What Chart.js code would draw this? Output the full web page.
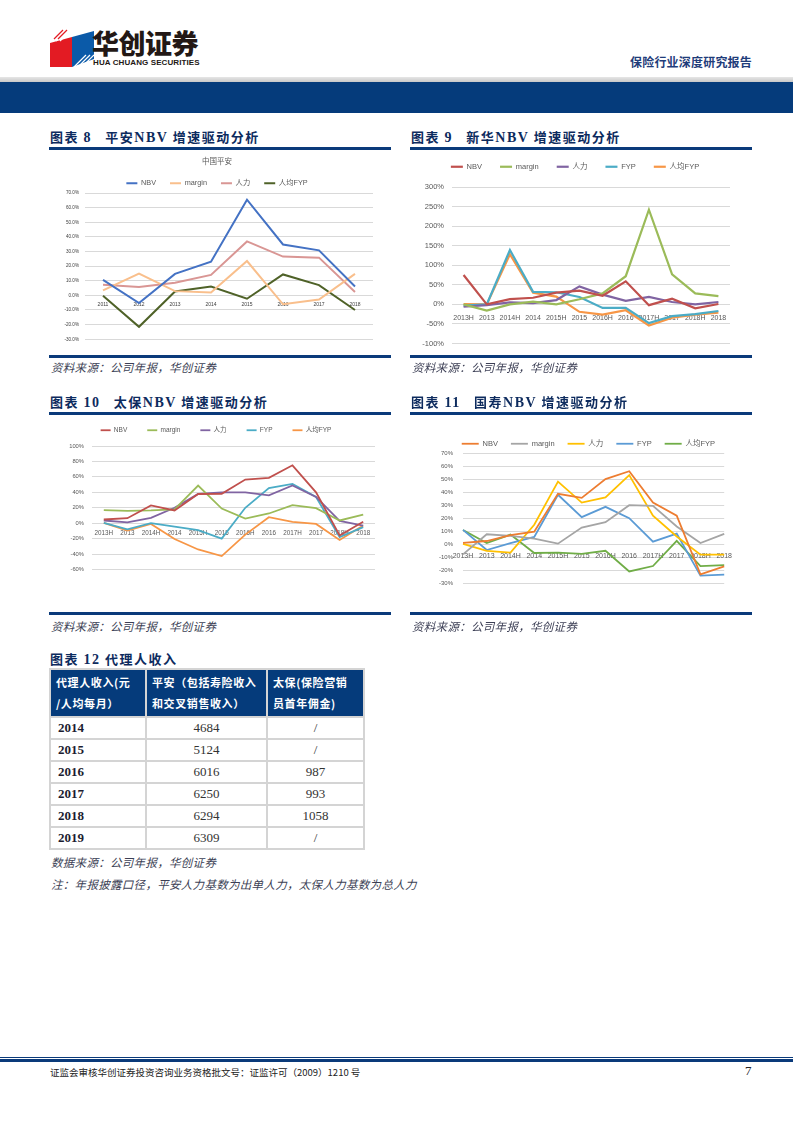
<!DOCTYPE html>
<html lang="zh-CN">
<head>
<meta charset="utf-8">
<title>保险行业深度研究报告</title>
<script src="https://cdn.jsdelivr.net/npm/chart.js@4.4.0/dist/chart.umd.min.js"></script>
<style>
  html, body { margin: 0; padding: 0; background: #fff; }
  body {
    width: 793px; height: 1122px; position: relative; overflow: hidden;
    font-family: "Noto Sans CJK SC", "Liberation Sans", sans-serif;
  }
  .abs { position: absolute; }
  canvas { position: absolute; }
  .brand { left: 92px; top: 26px; font-size: 27px; font-weight: 900; color: #231815; letter-spacing: -0.5px; line-height: 34px; }
  .brand-en { left: 93px; top: 58px; font-family: "Liberation Sans Narrow", "Liberation Sans", sans-serif; font-size: 8px; font-weight: 700; color: #231815; letter-spacing: 0.1px; }
  .report-name { left: 630px; top: 53px; font-size: 12px; font-weight: 700; color: #1f3d7a; letter-spacing: 0.2px; }
  .grey-rule { left: 0; top: 77px; width: 793px; height: 5px; background: linear-gradient(#e6e6e6, #c8c8c8); }
  .blue-band { left: 0; top: 82px; width: 793px; height: 31px; background: #053b7b; }
  .fig-title { font-size: 13px; font-weight: 700; color: #0d2b5e; line-height: 16px; white-space: nowrap; letter-spacing: 1.5px; }
  .fig-title .num { font-family: "Liberation Serif", serif; font-size: 14px; }
  .rule { height: 3px; background: #0a3a7a; }
  .rule-thin { height: 2.5px; background: #0a3a7a; }
  .source { font-size: 11.5px; font-style: italic; color: #3c3f55; line-height: 14px; white-space: nowrap; letter-spacing: 0.3px; }
  table.income { position: absolute; left: 49px; top: 668px; border-collapse: collapse; table-layout: fixed; width: 314px; }
  table.income td { border: 2px solid #d4d4d4; height: 20px; line-height: 20px; padding: 0 7px; font-family: "Liberation Serif", serif; font-size: 13px; color: #333; }
  table.income td.yr { font-weight: 700; color: #1c1c30; }
  table.income td.val { text-align: center; }
  table.income th { background: #053b7b; color: #fff; border: 2px solid #d4d4d4; font-size: 11px; font-weight: 700; text-align: left; padding: 0 5px; height: 46px; line-height: 21px; letter-spacing: 0.6px; white-space: nowrap; overflow: hidden; vertical-align: middle; }
  .footer-rule1 { left: 0; top: 1057px; width: 793px; height: 1px; background: #0a3a7a; }
  .footer-rule2 { left: 0; top: 1059px; width: 793px; height: 3px; background: #0a3a7a; }
  .footer { left: 50px; top: 1065px; font-size: 9.5px; color: #222; white-space: nowrap; }
  .page-no { left: 745px; top: 1063px; font-family: "Liberation Serif", serif; font-size: 13px; color: #222; }
</style>
</head>
<body>

<!-- header -->
<svg class="abs" style="left:50px;top:29px" width="44" height="38" viewBox="0 0 44 38">
  <polygon points="0,14 22,8 22,38 0,38" fill="#e31b23"/>
  <polygon points="22,8 44,2 44,30 22,38" fill="#0b5aa8"/>
  <g stroke="#ffffff" stroke-width="1.2">
    <line x1="2" y1="12" x2="14" y2="0"/>
    <line x1="6" y1="12" x2="18" y2="0"/>
    <line x1="10" y1="12" x2="22" y2="0"/>
    <line x1="24" y1="38" x2="36" y2="26"/>
    <line x1="28" y1="38" x2="40" y2="26"/>
    <line x1="32" y1="38" x2="44" y2="26"/>
  </g>
  <g stroke="#e31b23" stroke-width="1.2">
    <line x1="4" y1="10" x2="13" y2="1"/>
    <line x1="8" y1="10" x2="17" y2="1"/>
  </g>
</svg>
<div class="abs brand">华创证券</div>
<div class="abs brand-en">HUA CHUANG SECURITIES</div>
<div class="abs report-name">保险行业深度研究报告</div>
<div class="abs grey-rule"></div>
<div class="abs blue-band"></div>

<!-- figure 8 -->
<div class="abs fig-title" style="left:50px;top:129px">图表 <span class="num">8</span>&nbsp;&nbsp; 平安<span class="num">NBV</span> 增速驱动分析</div>
<div class="abs rule" style="left:49px;top:147px;width:342px"></div>
<canvas id="chartPingan" width="341" height="198" style="left:49px;top:150px"></canvas>
<div class="abs rule-thin" style="left:49px;top:355px;width:342px"></div>
<div class="abs source" style="left:51px;top:360px">资料来源：公司年报，华创证券</div>

<!-- figure 9 -->
<div class="abs fig-title" style="left:411px;top:129px">图表 <span class="num">9</span>&nbsp;&nbsp; 新华<span class="num">NBV</span> 增速驱动分析</div>
<div class="abs rule" style="left:410px;top:147px;width:342px"></div>
<canvas id="chartXinhua" width="330" height="211" style="left:410px;top:145px"></canvas>
<div class="abs rule-thin" style="left:410px;top:355px;width:342px"></div>
<div class="abs source" style="left:412px;top:360px">资料来源：公司年报，华创证券</div>

<!-- figure 10 -->
<div class="abs fig-title" style="left:50px;top:394px">图表 <span class="num">10</span>&nbsp;&nbsp; 太保<span class="num">NBV</span> 增速驱动分析</div>
<div class="abs rule" style="left:49px;top:412px;width:342px"></div>
<canvas id="chartTaibao" width="334" height="174" style="left:49px;top:407px"></canvas>
<div class="abs rule-thin" style="left:49px;top:612px;width:342px"></div>
<div class="abs source" style="left:51px;top:619px">资料来源：公司年报，华创证券</div>

<!-- figure 11 -->
<div class="abs fig-title" style="left:411px;top:394px">图表 <span class="num">11</span>&nbsp;&nbsp; 国寿<span class="num">NBV</span> 增速驱动分析</div>
<div class="abs rule" style="left:410px;top:412px;width:342px"></div>
<canvas id="chartGuoshou" width="330" height="170" style="left:410px;top:427px"></canvas>
<div class="abs rule-thin" style="left:410px;top:612px;width:342px"></div>
<div class="abs source" style="left:412px;top:619px">资料来源：公司年报，华创证券</div>

<!-- figure 12 -->
<div class="abs fig-title" style="left:50px;top:651px">图表 <span class="num">12</span>&nbsp;代理人收入</div>
<table class="income" id="incomeTable">
  <colgroup><col style="width:96px"><col style="width:121px"><col style="width:97px"></colgroup>
  <tr>
    <th>代理人收入(元<br>/人均每月）</th>
    <th>平安（包括寿险收入<br>和交叉销售收入）</th>
    <th>太保(保险营销<br>员首年佣金)</th>
  </tr>
</table>
<div class="abs source" style="left:51px;top:855px">数据来源：公司年报，华创证券</div>
<div class="abs source" style="left:51px;top:877px">注：年报披露口径，平安人力基数为出单人力，太保人力基数为总人力</div>

<!-- footer -->
<div class="abs footer-rule1"></div>
<div class="abs footer-rule2"></div>
<div class="abs footer">证监会审核华创证券投资咨询业务资格批文号：证监许可（2009）1210 号</div>
<div class="abs page-no">7</div>

<script>
// ---- 图表8 中国平安 (annual growth, %) ----
const pinganYears = ['2011', '2012', '2013', '2014', '2015', '2016', '2017', '2018'];
const pinganNBV = [10.6, -5.2, 14.7, 23.0, 65.4, 34.8, 30.8, 6.1];
const pinganMargin = [3.4, 14.9, 2.9, 2.0, 23.5, -6.1, -2.9, 14.7];
const pinganAgents = [7.2, 5.7, 8.6, 14.0, 36.9, 26.5, 25.8, 2.3];
const pinganFypPerAgent = [-0.3, -21.5, 2.7, 6.1, -2.3, 14.3, 7.0, -10.0];

// ---- half-year periods shared by 新华 / 太保 / 国寿 ----
const halfYears = ['2013H', '2013', '2014H', '2014', '2015H', '2015', '2016H', '2016', '2017H', '2017', '2018H', '2018'];

// 图表9 新华
const xinhuaNBV = [75, 0, 13.6, 17, 30, 35, 22, 59, -2, 14.5, -10, 1];
const xinhuaMargin = [0, -16, 0, 7, 0, 13, 28, 72, 242, 77, 28, 21];
const xinhuaAgents = [-6, -2, 5, 3, 11, 46, 25, 9, 19, 6, 0, 6];
const xinhuaFYP = [-3, 0, 139, 32, 31, 19, -9, -9, -48, -30, -25, -17];
const xinhuaFypPerAgent = [1, 0, 128, 30, 20, -19, -26, -15, -54, -34, -26, -21];

// 图表10 太保
const taibaoNBV = [4.8, 6.5, 23, 16.5, 37.8, 38, 56.5, 58.7, 75, 40, -16, 2];
const taibaoMargin = [17, 16, 16.5, 18, 48.7, 19, 6, 12.6, 23.5, 19.5, 3.5, 11];
const taibaoAgents = [3.5, 1, 7, 20, 38, 40, 40, 36, 49, 34, 3, -3];
const taibaoFYP = [0.5, -8, 0, -4.5, -9, -20, 20, 45.6, 51, 34, -18, -5];
const taibaoFypPerAgent = [0.5, -9.5, -1, -20.4, -34, -42.6, -14.8, 7.8, 1.7, -1, -21.7, -3];

// 图表11 国寿
const guoshouNBV = [1, 2.5, 7, 9.7, 38.7, 35.6, 50, 56, 32, 22, -23, -17];
const guoshouMargin = [-7.7, 7.7, 6.4, 4.4, 0.5, 12.8, 17, 30, 29.5, 13.6, 1, 8];
const guoshouAgents = [0.3, -5, -6.4, 15, 48, 32, 36, 53, 22, 6, -8, -8];
const guoshouFYP = [11, -4.4, 0.8, 5.6, 38, 20.8, 28.7, 20, 2, 8.2, -24, -23.3];
const guoshouFypPerAgent = [11, 1, 7.4, -6.7, -6.4, -7.4, -5, -20.8, -16.7, 2.6, -16.7, -16];

// ---- 图表12 代理人收入 ----
const incomeYears = ['2014', '2015', '2016', '2017', '2018', '2019'];
const pinganIncome = ['4684', '5124', '6016', '6250', '6294', '6309'];
const taibaoIncome = ['/', '/', '987', '993', '1058', '/'];

const FONT = '"Liberation Sans", "Noto Sans CJK SC", sans-serif';

/**
 * Pins the legend block to a fixed height so the plot top lines up
 */
function fixedLegendHeight(px) {
  return {
    id: 'fixedLegendHeight',
    beforeInit(chart) {
      const fit = chart.legend.fit;
      chart.legend.fit = function () {
        fit.call(this);
        this.height = px;
      };
    }
  };
}

/**
 * Build one Excel-style growth line chart
 */
function buildLineChart(canvasId, setup) {
  const canvas = document.getElementById(canvasId);
  const datasets = setup.series.map(s => ({
    label: s.name,
    data: s.values,
    borderColor: s.color,
    backgroundColor: s.color,
    borderWidth: setup.lineWidth,
    pointRadius: 0,
    tension: 0,
    fill: false
  }));

  return new Chart(canvas.getContext('2d'), {
    type: 'line',
    data: { labels: setup.labels, datasets: datasets },
    options: {
      responsive: false,
      animation: false,
      layout: { padding: { left: setup.padLeft, right: setup.padRight, top: 0, bottom: 0 } },
      plugins: {
        title: setup.title ? {
          display: true,
          text: setup.title,
          color: '#595959',
          font: { family: FONT, size: 7.5, weight: 'normal', lineHeight: 1 },
          padding: { top: 8, bottom: 0 }
        } : { display: false },
        legend: {
          align: setup.legendAlign || 'center',
          labels: {
            usePointStyle: true,
            pointStyle: 'line',
            pointStyleWidth: setup.boxWidth,
            padding: setup.legendPad,
            color: '#595959',
            font: { family: FONT, size: setup.legendFont }
          }
        },
        tooltip: { enabled: false }
      },
      scales: {
        x: {
          position: { y: 0 },
          offset: setup.offset,
          grid: { display: false, drawTicks: false },
          border: { display: false },
          ticks: {
            color: setup.tickColor || '#595959',
            font: { family: FONT, size: setup.xFont },
            padding: setup.xPad,
            autoSkip: false,
            maxRotation: 0
          }
        },
        y: {
          min: setup.min,
          max: setup.max,
          grid: { color: '#d9d9d9', lineWidth: 1, drawTicks: false },
          border: { display: false },
          ticks: {
            stepSize: setup.step,
            color: setup.tickColor || '#595959',
            font: { family: FONT, size: setup.yFont },
            padding: setup.yPad,
            callback: v => v.toFixed(setup.decimals) + '%'
          },
          afterFit: s => { s.width = setup.axisWidth; }
        }
      }
    },
    plugins: [fixedLegendHeight(setup.legendHeight)]
  });
}

// 图表8
buildLineChart('chartPingan', {
  labels: pinganYears,
  title: '中国平安',
  series: [
    { name: 'NBV', values: pinganNBV, color: '#4472c4' },
    { name: 'margin', values: pinganMargin, color: '#f9bf8c' },
    { name: '人力', values: pinganAgents, color: '#d99694' },
    { name: '人均FYP', values: pinganFypPerAgent, color: '#4f6228' }
  ],
  min: -30, max: 70, step: 10, decimals: 1,
  lineWidth: 2, boxWidth: 11, legendPad: 14, legendFont: 7.3, legendHeight: 27.5,
  xFont: 5, yFont: 4.6, xPad: 6, yPad: 6, tickColor: '#404040',
  axisWidth: 24, padLeft: 12, padRight: 17, offset: true
});

// 图表9
buildLineChart('chartXinhua', {
  labels: halfYears,
  series: [
    { name: 'NBV', values: xinhuaNBV, color: '#c0504d' },
    { name: 'margin', values: xinhuaMargin, color: '#9bbb59' },
    { name: '人力', values: xinhuaAgents, color: '#8064a2' },
    { name: 'FYP', values: xinhuaFYP, color: '#4bacc6' },
    { name: '人均FYP', values: xinhuaFypPerAgent, color: '#f79646' }
  ],
  min: -100, max: 300, step: 50, decimals: 0,
  lineWidth: 2.2, boxWidth: 12, legendPad: 18, legendFont: 7.5, legendHeight: 42,
  xFont: 7, yFont: 7.5, xPad: 9, yPad: 8,
  axisWidth: 32, padLeft: 10, padRight: 10, offset: true
});

// 图表10
buildLineChart('chartTaibao', {
  labels: halfYears,
  series: [
    { name: 'NBV', values: taibaoNBV, color: '#c0504d' },
    { name: 'margin', values: taibaoMargin, color: '#9bbb59' },
    { name: '人力', values: taibaoAgents, color: '#8064a2' },
    { name: 'FYP', values: taibaoFYP, color: '#4bacc6' },
    { name: '人均FYP', values: taibaoFypPerAgent, color: '#f79646' }
  ],
  min: -60, max: 100, step: 20, decimals: 0,
  lineWidth: 1.8, boxWidth: 10, legendPad: 20, legendFont: 6.5, legendHeight: 39,
  xFont: 6.3, yFont: 5.8, xPad: 6, yPad: 8,
  axisWidth: 35, padLeft: 8, padRight: 8, offset: true
});

// 图表11
buildLineChart('chartGuoshou', {
  labels: halfYears,
  series: [
    { name: 'NBV', values: guoshouNBV, color: '#ed7d31' },
    { name: 'margin', values: guoshouMargin, color: '#a5a5a5' },
    { name: '人力', values: guoshouAgents, color: '#ffc000' },
    { name: 'FYP', values: guoshouFYP, color: '#5b9bd5' },
    { name: '人均FYP', values: guoshouFypPerAgent, color: '#70ad47' }
  ],
  min: -30, max: 70, step: 10, decimals: 0,
  lineWidth: 1.8, boxWidth: 17, legendPad: 13, legendFont: 7.5, legendHeight: 26,
  legendAlign: 'end',
  xFont: 7, yFont: 6, xPad: 8, yPad: 10,
  axisWidth: 53, padLeft: 0, padRight: 12, offset: false
});

// 图表12 table rows
const table = document.getElementById('incomeTable');
incomeYears.forEach((year, i) => {
  const row = table.insertRow();
  row.innerHTML = `<td class="yr">${year}</td><td class="val">${pinganIncome[i]}</td><td class="val">${taibaoIncome[i]}</td>`;
});
</script>
</body>
</html>
